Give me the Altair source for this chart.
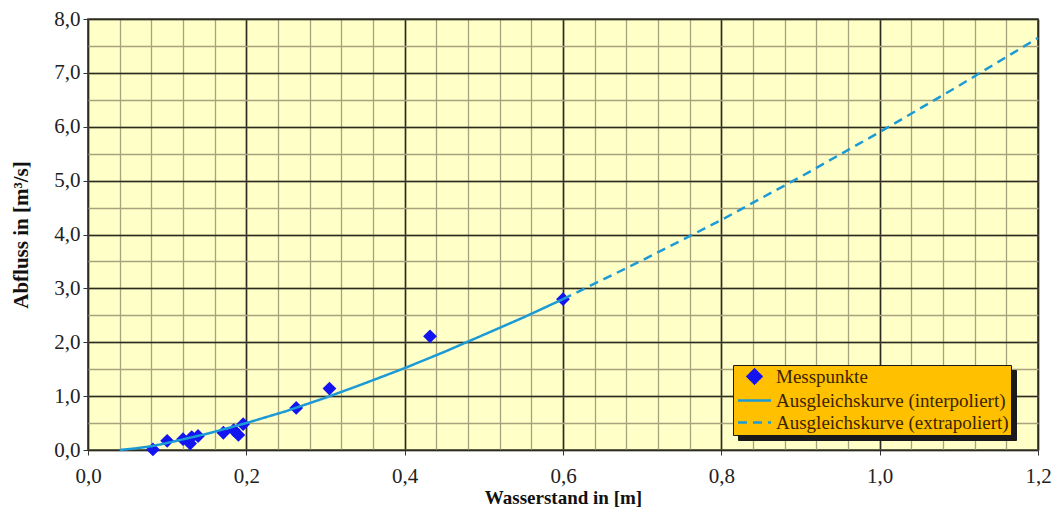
import altair as alt
import pandas as pd

S1 = "Messpunkte"
S2 = "Ausgleichskurve (interpoliert)"
S3 = "Ausgleichskurve (extrapoliert)"

# Messpunkte (Wasserstand [m], Abfluss [m³/s])
mess_h = [0.082, 0.100, 0.120, 0.129, 0.131, 0.139, 0.171, 0.184, 0.190, 0.196, 0.263, 0.305, 0.432, 0.600]
mess_q = [0.01, 0.17, 0.20, 0.12, 0.24, 0.26, 0.32, 0.37, 0.28, 0.48, 0.78, 1.14, 2.11, 2.80]

# Ausgleichskurve interpoliert
int_h = [0.04, 0.06, 0.08, 0.10, 0.15, 0.20, 0.25, 0.30, 0.35, 0.40, 0.45, 0.50, 0.55, 0.60]
int_q = [0.00, 0.03, 0.07, 0.13, 0.30, 0.50, 0.72, 0.97, 1.24, 1.52, 1.82, 2.14, 2.46, 2.80]

# Ausgleichskurve extrapoliert
ext_h = [0.60, 0.70, 0.80, 0.90, 1.00, 1.10, 1.20]
ext_q = [2.80, 3.52, 4.27, 5.07, 5.90, 6.76, 7.65]

x_major = [0.0, 0.2, 0.4, 0.6, 0.8, 1.0, 1.2]
x_minor = [round(i * 0.04, 2) for i in range(31)]
y_major = [0, 1, 2, 3, 4, 5, 6, 7, 8]
y_minor = [i * 0.5 for i in range(17)]

df_m = pd.DataFrame({"h": mess_h, "q": mess_q, "Reihe": S1, "Schatten": S1})
df_i = pd.DataFrame({"h": int_h, "q": int_q, "Reihe": S2})
df_e = pd.DataFrame({"h": ext_h, "q": ext_q, "Reihe": S3})

FONT = "Liberation Serif"
LINE = "#1C9AD6"
PT = "#1414F0"
SHADOW = "#1a1a1a"
lab = "replace(format(datum.value, '.1f'), '.', ',')"
LINE_SYM = "M-2.4,0L2.4,0"

xs = alt.Scale(domain=[0, 1.2], nice=False, zero=False)
ys = alt.Scale(domain=[0, 8], nice=False)

dom = [S1, S2, S3]
common_leg = dict(
    title=None, orient="none", padding=2,
    labelFont=FONT, labelFontSize=19, labelLimit=400,
    symbolOffset=10, labelOffset=12, rowPadding=2, symbolSize=190,
)
legend = alt.Legend(
    legendX=645, legendY=346, fillColor="#FFC000", strokeColor=SHADOW,
    labelColor="#3a2400", symbolStrokeWidth=2.5, symbolOpacity=1, zindex=2, **common_leg,
)
# dark drop shadow behind the legend box
shadow_legend = alt.Legend(
    legendX=650, legendY=351, fillColor=SHADOW, strokeColor=SHADOW,
    labelColor=SHADOW, labelOpacity=0, symbolFillColor=SHADOW, symbolStrokeColor=SHADOW,
    zindex=1, **common_leg,
)

stroke_enc = alt.Stroke("Reihe:N", scale=alt.Scale(domain=dom, range=[PT, LINE, LINE]), legend=legend)
dash_enc = alt.StrokeDash("Reihe:N", scale=alt.Scale(domain=dom, range=[[1, 0], [1, 0], [9, 6]]), legend=legend)

minor_x_axis = alt.Axis(values=x_minor, orient="top", grid=True, gridColor="#A8A27E", gridWidth=1.3,
                        labels=False, ticks=False, domain=False, title=None)
minor_y_axis = alt.Axis(values=y_minor, orient="right", grid=True, gridColor="#A8A27E", gridWidth=1.3,
                        labels=False, ticks=False, domain=False, title=None)
major_x_axis = alt.Axis(values=x_major, orient="bottom", grid=True, gridColor="#2b2b22", gridWidth=1.6,
                        labelExpr=lab, tickSize=5, tickColor="#333", labelPadding=10, domain=False,
                        labelFont=FONT, labelFontSize=21, labelColor="#222",
                        labelFlush=False, title="Wasserstand in [m]", titlePadding=2,
                        titleFont=FONT, titleFontSize=19, titleFontWeight="bold", titleColor="#111")
major_y_axis = alt.Axis(values=y_major, orient="left", grid=True, gridColor="#2b2b22", gridWidth=1.6,
                        labelExpr=lab, tickSize=5, tickColor="#333", labelPadding=3, domain=False,
                        labelFont=FONT, labelFontSize=21, labelColor="#222",
                        labelFlush=False, title="Abfluss in [m³/s]", titlePadding=22,
                        titleFont=FONT, titleFontSize=21, titleFontWeight="bold", titleColor="#111")

points = alt.Chart(df_m).mark_point(filled=True, strokeWidth=0, size=190).encode(
    x=alt.X("h:Q", scale=xs, axis=minor_x_axis),
    y=alt.Y("q:Q", scale=ys, axis=minor_y_axis),
    fill=alt.Fill("Reihe:N", scale=alt.Scale(domain=dom, range=[PT, "transparent", "transparent"]), legend=legend),
    shape=alt.Shape("Reihe:N", scale=alt.Scale(domain=dom, range=["diamond", LINE_SYM, LINE_SYM]), legend=legend),
    stroke=stroke_enc,
    strokeDash=dash_enc,
    opacity=alt.Opacity("Schatten:N", scale=alt.Scale(domain=[S3, S2, S1], range=[1, 1, 1]), legend=shadow_legend),
)

interp = alt.Chart(df_i).mark_line(strokeWidth=2.5).encode(
    x=alt.X("h:Q", scale=xs, axis=major_x_axis),
    y=alt.Y("q:Q", scale=ys, axis=major_y_axis),
    stroke=stroke_enc,
    strokeDash=dash_enc,
)

extrap = alt.Chart(df_e).mark_line(strokeWidth=2.5).encode(
    x=alt.X("h:Q", scale=xs, axis=None),
    y=alt.Y("q:Q", scale=ys, axis=None),
    stroke=stroke_enc,
    strokeDash=dash_enc,
)

chart = alt.layer(points, interp, extrap).resolve_axis(x="independent", y="independent").properties(
    width=950, height=431,
    autosize=alt.AutoSizeParams(type="none"),
    padding={"left": 88, "top": 19, "right": 15, "bottom": 64},
    background="white",
).configure_view(
    fill="#FFFFC8", stroke="#2b2b22", strokeWidth=1.6
)

chart.save("out.html", embed_options={"renderer": "svg", "actions": False})
